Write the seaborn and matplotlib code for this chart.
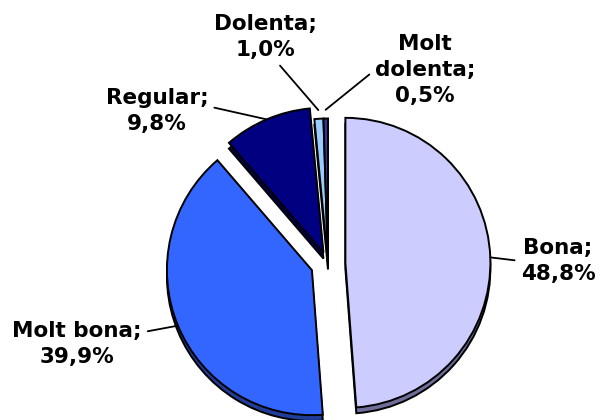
import numpy as np
import matplotlib
matplotlib.use("Agg")
import matplotlib.pyplot as plt
import seaborn as sns

# Data
categories = ["Bona", "Molt bona", "Regular", "Dolenta", "Molt dolenta"]
values = [48.8, 39.9, 9.8, 1.0, 0.5]
labels = ["Bona;\n48,8%", "Molt bona;\n39,9%", "Regular;\n9,8%",
          "Dolenta;\n1,0%", "Molt\ndolenta;\n0,5%"]

colors = ["#CCCCFF", "#3366FF", "#000080", "#99CCFF", "#333399"]
shade = ["#6E6E99", "#1F3D99", "#00004A", "#5A7A99", "#1E1E5C"]
explode = [0.12, 0.12, 0.08, 0.0, 0.0]
# label centres (layout, in pie-radius units)
label_pos = [(1.586, 0.017), (-1.731, -0.555), (-1.179, 1.052),
             (-0.434, 1.562), (0.669, 1.334)]
label_relpos = [(0.0, 0.5), (1.0, 0.75), (1.0, 0.6), (0.6, 0.0), (0.0, 0.5)]

sns.set_theme(style="white")
plt.rcParams['font.family'] = ['DejaVu Sans']

fig = plt.figure(figsize=(6.04, 4.2), dpi=100)
ax = fig.add_axes([0, 0, 1, 1])

# 3D-ish depth: darker copy slightly below
ax.pie(values, colors=shade, explode=explode, startangle=90, counterclock=False,
       center=(0, -0.04), wedgeprops=dict(edgecolor="black", linewidth=1.4))
wedges, _ = ax.pie(values, colors=colors, explode=explode, startangle=90,
                   counterclock=False,
                   wedgeprops=dict(edgecolor="black", linewidth=1.4))

# labels with leader lines
fracs = np.array(values) / np.sum(values)
cum = np.cumsum(fracs) - fracs / 2
for i, lab in enumerate(labels):
    ang = np.deg2rad(90 - 360 * cum[i])
    r = 1.0 + explode[i] + (0.06 if explode[i] == 0 else 0.0)
    tip = (r * np.cos(ang), r * np.sin(ang))
    ax.annotate(lab, xy=tip, xytext=label_pos[i], ha="center", va="center",
                fontsize=15.5, fontweight="bold", color="black",
                linespacing=1.4,
                arrowprops=dict(arrowstyle="-", color="black", lw=1.3,
                                shrinkA=2, shrinkB=0,
                                relpos=label_relpos[i]))

R = 145.0
cx, cy = 328.0, 263.5
ax.set_xlim(-cx / R, (604 - cx) / R)
ax.set_ylim(-(420 - cy) / R, cy / R)
ax.axis("off")

fig.savefig("out.png", dpi=100)
